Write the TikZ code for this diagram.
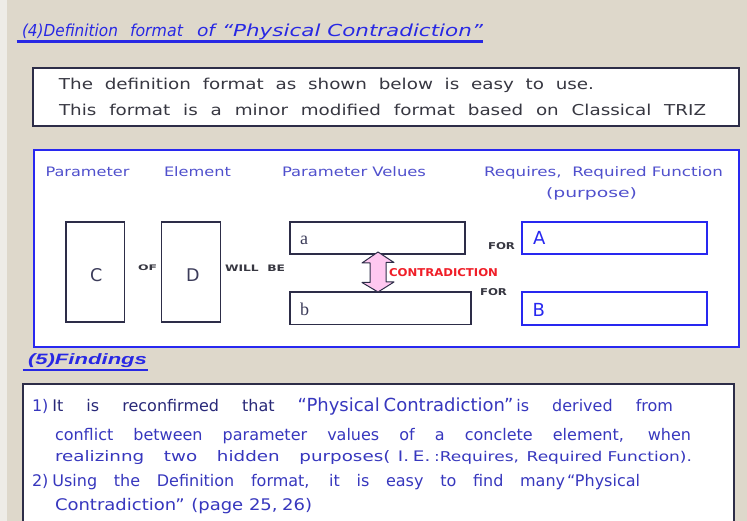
\documentclass[tikz,border=0pt]{standalone}
\usepackage{fontspec}
\usepackage{graphicx}
\setmainfont{DejaVu Sans}
\newfontfamily\arialfont{Liberation Sans}
\newfontfamily\romanfont{Liberation Serif}
\definecolor{bgbeige}{RGB}{222,216,203}
\definecolor{leftstrip}{RGB}{238,236,231}
\definecolor{titleblue}{RGB}{40,40,228}
\definecolor{navyline}{RGB}{45,45,72}
\definecolor{boxblue}{RGB}{40,40,240}
\definecolor{labelblue}{RGB}{80,80,205}
\definecolor{findblue}{RGB}{55,55,190}
\definecolor{navytext}{RGB}{40,40,120}
\definecolor{darktext}{RGB}{55,55,65}
\definecolor{lettercol}{RGB}{60,60,90}
\definecolor{contrared}{RGB}{240,30,40}
\definecolor{arrowpink}{RGB}{255,200,240}
\newcommand{\fitw}[2]{\makebox[#1][s]{#2}}
\newcommand{\hfit}[2]{\resizebox{#1}{\height}{#2}}
\newcommand{\sline}[3]{\resizebox{#1}{\height}{\makebox[#2][s]{#3}}}
\begin{document}
\begin{tikzpicture}[x=1pt,y=-1pt,
  txt/.style={inner sep=0pt, outer sep=0pt, anchor=base west},
  framebox/.style={draw=navyline, line width=2pt, fill=white, inner sep=0pt},
  bluebox/.style={draw=boxblue, line width=2pt, fill=white, inner sep=0pt},
  elembox/.style={draw=navyline, line width=1.5pt, fill=white, inner sep=0pt},
  reqbox/.style={draw=boxblue, line width=1.8pt, fill=white, inner sep=0pt},
  introtxt/.style={txt, font=\fontsize{15}{15}\selectfont, text=darktext},
  labtxt/.style={txt, font=\fontsize{13}{13}\selectfont, text=labelblue},
  smallword/.style={txt, text=darktext},
  findtxt/.style={txt, font=\fontsize{16}{16}\selectfont, text=findblue},
  underl/.style={line width=2.2pt},
  arrowshape/.style={draw=navyline, line width=1pt, fill=arrowpink, line join=round}
]
\useasboundingbox (0,0) rectangle (747,521);
\fill[bgbeige] (0,0) rectangle (747,521);
\fill[leftstrip] (0,0) rectangle (7,521);

% title (4)
\node[txt, font=\itshape\fontsize{16.5}{16.5}\selectfont, text=titleblue] (title) at (22,36.5)
  {\hfit{96pt}{(4)Definition}\hspace{12pt}\hfit{53pt}{format}\hspace{14pt}\hfit{18pt}{of}\hspace{7pt}\hfit{261pt}{“Physical Contradiction”}};
\draw[underl, titleblue] (16.7,41.5) -- (483,41.5);

% intro box
\node[framebox, minimum width=705.5pt, minimum height=58pt] (intro) at (386,97) {};
\node[introtxt] (i1) at (59,90) {\sline{535pt}{438pt}{The definition format as shown below is easy to use.}};
\node[introtxt] (i2) at (59,115.5) {\sline{647pt}{530pt}{This\ format is a minor modified format based on Classical TRIZ}};

% format box
\node[bluebox, minimum width=704.5pt, minimum height=197pt] (format) at (386.25,248.5) {};
\node[labtxt] (lpar) at (45.5,176.5) {\hfit{84pt}{Parameter}};
\node[labtxt] (lele) at (164,176.5) {\hfit{67pt}{Element}};
\node[labtxt] (lval) at (282,176.5) {\hfit{144pt}{Parameter Velues}};
\node[labtxt] (lreq) at (484,176.5) {\hfit{239pt}{Requires,\ \ Required Function}};
\node[labtxt] (lpur) at (546,197.5) {\hfit{91pt}{(purpose)}};

\node[elembox, minimum width=58.5pt, minimum height=100pt] (C) at (95,272) {};
\node[elembox, minimum width=59pt, minimum height=100pt] (D) at (191.2,272) {};
\node[elembox, minimum width=175pt, minimum height=32pt] (va) at (377.5,238) {};
\node[elembox, minimum width=181pt, minimum height=32.5pt] (vb) at (380.5,308.2) {};
\node[reqbox, minimum width=185pt, minimum height=32pt] (rA) at (614.5,238) {};
\node[reqbox, minimum width=185pt, minimum height=33pt] (rB) at (614.5,308.5) {};

\node[txt, font=\fontsize{17.5}{17.5}\selectfont, text=lettercol] (tC) at (90,282) {C};
\node[txt, font=\fontsize{17.5}{17.5}\selectfont, text=lettercol] (tD) at (186,282) {D};
\node[txt, font=\romanfont\fontsize{18}{18}\selectfont, text=lettercol] (ta) at (300,245) {a};
\node[txt, font=\romanfont\fontsize{18}{18}\selectfont, text=lettercol] (tb) at (300,315.5) {b};
\node[txt, font=\fontsize{18}{18}\selectfont, text=boxblue] (tA) at (533,245) {A};
\node[txt, font=\fontsize{18}{18}\selectfont, text=boxblue] (tB) at (532.5,316.5) {B};

\node[smallword] (wof) at (138,270.7) {\resizebox{19pt}{5.7pt}{\bfseries OF}};
\node[smallword] (wwill) at (225,271.7) {\resizebox{60pt}{6.5pt}{\bfseries WILL\ \ BE}};
\node[smallword] (wfor1) at (488,249.3) {\resizebox{27pt}{7pt}{\bfseries FOR}};
\node[smallword] (wfor2) at (480,295) {\resizebox{27pt}{7pt}{\bfseries FOR}};
\node[txt, text=contrared] (wcon) at (389,277) {\resizebox{109pt}{8pt}{\bfseries CONTRADICTION}};

% contradiction double arrow between value boxes
\coordinate (atop) at (378,252);
\coordinate (abot) at (378,292);
\draw[arrowshape] (atop) -- ++(16,10.5) -- ++(-8,0) -- ++(0,19.5) -- ++(8,0) -- (abot)
  -- ++(-16,-9.5) -- ++(8,0) -- ++(0,-19.5) -- ++(-8,0) -- cycle;

% findings title
\node[txt, font=\arialfont\bfseries\itshape\fontsize{15}{15}\selectfont, text=titleblue] (ftitle) at (28,364.5)
  {\hfit{119pt}{(5)Findings}};
\draw[underl, titleblue] (22.7,370) -- (148,370);

% findings box
\node[framebox, minimum width=711pt, minimum height=170pt, anchor=north west] (finding) at (22,383) {};
\node[findtxt] (f1) at (32,411.7) {\fitw{641pt}{1)\hspace{4pt}{\color{navytext}It is reconfirmed that} {\fontsize{18}{18}\selectfont “Physical\hspace{4pt}Contradiction”}\hspace{3pt}is derived from}};
\node[findtxt] (f2) at (55,440) {\fitw{636pt}{conflict between parameter values of a conclete element, when}};
\node[findtxt, font=\fontsize{14.5}{14.5}\selectfont] (f3) at (55,461.7) {\sline{637pt}{505pt}{realizinng two hidden purposes(\hspace{6pt}I.\hspace{3pt}E.\hspace{3pt}{\fontsize{13.5}{13.5}\selectfont :Requires,\hspace{6pt}Required\hspace{4pt}Function).}}};
\node[findtxt] (f4) at (32,486.7) {\fitw{608pt}{2)\hspace{4pt}Using the Definition format, it is easy to find many\hspace{2pt}“Physical}};
\node[findtxt] (f5) at (55,510) {\hfit{257pt}{Contradiction”\hspace{6pt}(page 25,\hspace{4pt}26)}};
\end{tikzpicture}
\end{document}
